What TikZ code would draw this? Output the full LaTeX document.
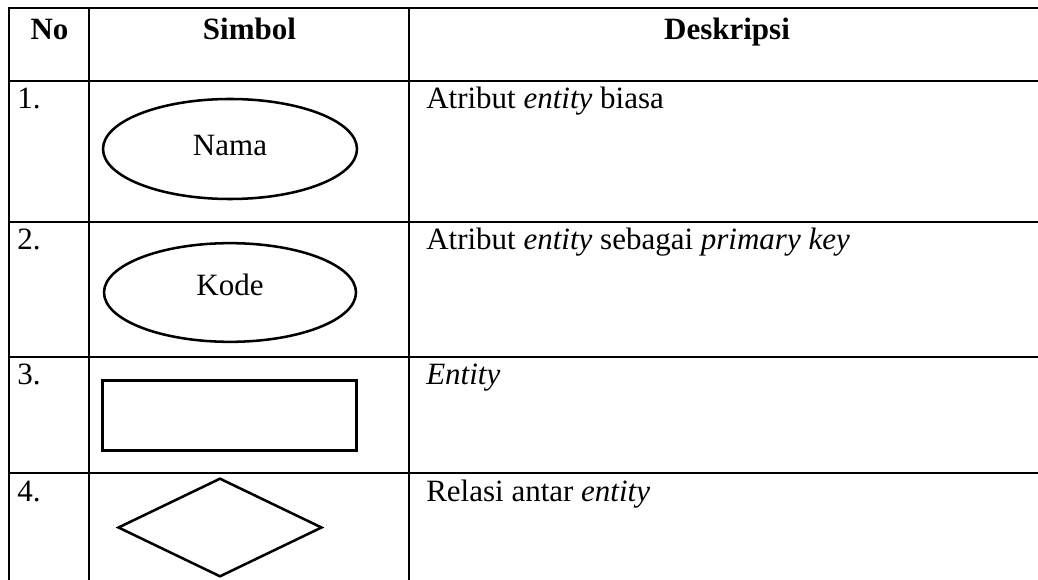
\documentclass[tikz,border=0pt]{standalone}
\usepackage{fontspec}
\setmainfont{Liberation Serif}
\usetikzlibrary{shapes.geometric}
\begin{document}
\begin{tikzpicture}[x=0.75pt,y=-0.75pt,
  grid/.style={line width=1.5pt},
  shapeline/.style={draw,line width=1.9pt,inner sep=0pt},
  txt/.style={inner sep=0pt,anchor=base,font=\fontsize{23.25}{28}\selectfont},
  head/.style={txt,font=\fontsize{23.25}{28}\selectfont\bfseries},
  num/.style={txt,anchor=base west},
  desc/.style={txt,anchor=base west}]
\useasboundingbox (0,0) rectangle (1038,580);
% grid
\foreach \yy in {8,81,222,357,473}
  \draw[grid] (8.25,\yy) -- (1045,\yy);
\foreach \xx in {9,89,409}
  \draw[grid] (\xx,7.25) -- (\xx,590);
% header
\node[head] (hno) at (49.5,39.5) {No};
\node[head] (hsym) at (249.5,39.5) {Simbol};
\node[head] (hdesc) at (727,39.5) {Deskripsi};
% numbers
\node[num] (n1) at (17,109) {1.};
\node[num] (n2) at (17,250) {2.};
\node[num] (n3) at (17,385) {3.};
\node[num] (n4) at (17,501) {4.};
% descriptions
\node[desc] (d1) at (426,109) {Atribut \textit{entity} biasa};
\node[desc] (d2) at (426,250) {Atribut \textit{entity} sebagai \textit{primary key}};
\node[desc] (d3) at (426,385) {\textit{Entity}};
\node[desc] (d4) at (426,501) {Relasi antar \textit{entity}};
% symbols
\node[shapeline,ellipse,minimum width=190.5pt,minimum height=75pt] (e1) at (230,149) {};
\node[txt] (t1) at (230,156) {Nama};
\node[shapeline,ellipse,minimum width=189pt,minimum height=74pt] (e2) at (230,292.5) {};
\node[txt] (t2) at (230,296) {Kode};
\node[shapeline,rectangle,line width=2.2pt,minimum width=190pt,minimum height=52pt] (r3) at (229.5,415.5) {};
\node[shapeline,diamond,minimum width=153pt,minimum height=74pt] (m4) at (220,527.5) {};
\end{tikzpicture}
\end{document}
